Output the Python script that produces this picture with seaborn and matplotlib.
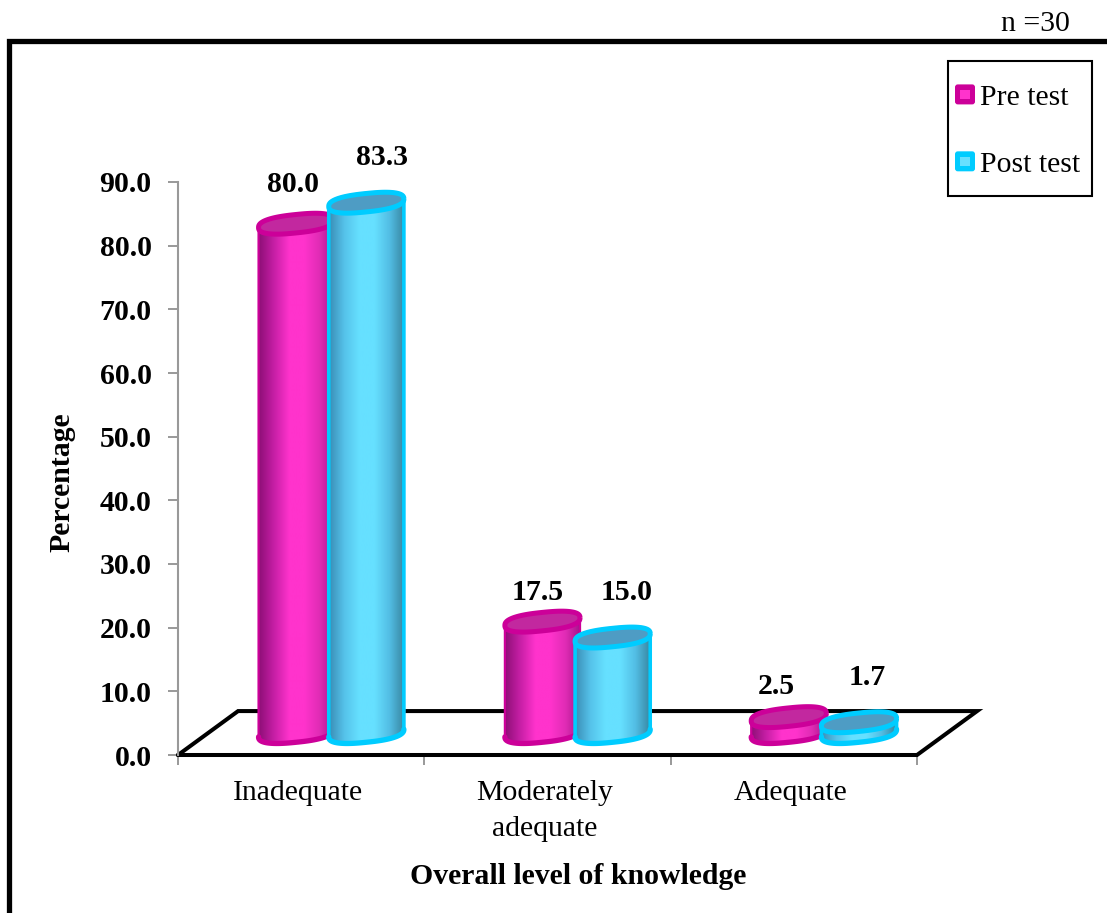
import numpy as np
import pandas as pd
import matplotlib
matplotlib.use("Agg")
import matplotlib.pyplot as plt
import seaborn as sns
from matplotlib.lines import Line2D
from matplotlib.patches import FancyBboxPatch, PathPatch, Rectangle
from matplotlib.path import Path
from matplotlib.legend_handler import HandlerBase
from matplotlib.transforms import ScaledTranslation

levels = ["Inadequate", "Moderately\nadequate", "Adequate"]
pre_test = [80.0, 17.5, 2.5]
post_test = [83.3, 15.0, 1.7]
series_names = ["Pre test", "Post test"]
y_ticks = [0, 10, 20, 30, 40, 50, 60, 70, 80, 90]

W, H = 1107, 913
SERIF = ["Liberation Serif", "DejaVu Serif"]
FS = 21.4

sns.set_theme(style="ticks", rc={"axes.edgecolor": "#999999", "axes.linewidth": 1.5,
                                 "xtick.color": "#999999", "ytick.color": "#999999"})
plt.rcParams["font.family"] = SERIF

fig = plt.figure(figsize=(W / 100, H / 100), dpi=100, facecolor="white")
ax = fig.add_axes([178 / W, (H - 755) / H, (917 - 178) / W, (755 - 182) / H])

df = pd.DataFrame({
    "level": levels * 2,
    "percentage": pre_test + post_test,
    "test": [series_names[0]] * 3 + [series_names[1]] * 3,
})
rim = {"Pre test": "#CC0099", "Post test": "#00CCFF"}
lid = {"Pre test": "#C2289F", "Post test": "#4E9CC4"}
shades = {
    "Pre test": ["#8F0F78", "#C71FA6", "#FF33CC", "#FF33CC", "#E02CB5", "#A3148A"],
    "Post test": ["#3A8DB5", "#55C2EA", "#66E0FF", "#66E0FF", "#52BDE4", "#37859F"],
}

sns.barplot(data=df, x="level", y="percentage", hue="test", order=levels,
            hue_order=series_names, palette=rim, width=0.57, gap=-0.07,
            errorbar=None, legend=False, ax=ax)

# Perspective of the chart floor, in data units
depth_x, depth_y = 0.122, 3.45
ell_b, ell_k = 1.45, 0.6


def ellipse(cx, cy, a, t):
    # Slightly squared-off ellipse, sheared so the right side sits higher
    c, s = np.cos(t), np.sin(t)
    c = np.sign(c) * np.abs(c) ** 0.8
    s = np.sign(s) * np.abs(s) ** 0.8
    return np.column_stack([cx + a * c, cy + ell_b * s + ell_k * c])


# Floor drawn as a black parallelogram outline behind the cylinders
floor = Line2D([-0.5, -0.5 + 2 * depth_x, 2.5 + 2 * depth_x, 2.5, -0.5],
               [0, 2 * depth_y, 2 * depth_y, 0, 0],
               color="black", lw=2.9, clip_on=False, zorder=2.5, solid_joinstyle="miter")
ax.add_line(floor)

label_nudges = [[(-3, 39), (-5, 29), (-12, 31)], [(16, 45), (14, 45), (8, 45)]]

for s, (name, bars) in enumerate(zip(series_names, ax.containers)):
    z = 3 + s
    for b, patch in enumerate(bars.patches):
        value = patch.get_height()
        x0, w = patch.get_x() + depth_x, patch.get_width()
        cx, a = x0 + w / 2, w / 2
        y0 = depth_y
        y1 = depth_y + value
        patch.set_x(x0)
        patch.set_y(y0)
        patch.set_zorder(z)

        # Cylinder wall: horizontal shading clipped to the wall outline
        low = ellipse(cx, y0, a, np.linspace(np.pi, 2 * np.pi, 60))
        high = ellipse(cx, y1, a, np.linspace(0, np.pi, 60))
        wall = Path(np.vstack([low, high, low[:1]]), closed=False)
        wall_patch = PathPatch(wall, fc="none", ec=rim[name], lw=2.6 if s else 1.6,
                               zorder=z + 0.2, joinstyle="round")
        ax.add_patch(wall_patch)
        cmap = matplotlib.colors.LinearSegmentedColormap.from_list(name, shades[name])
        img = ax.imshow(np.linspace(0, 1, 200)[None, :], cmap=cmap, aspect="auto",
                        extent=[x0, x0 + w, y0 - 3, y1 + 3], zorder=z + 0.1,
                        interpolation="bilinear")
        img.set_clip_path(PathPatch(wall, transform=ax.transData))

        # Heavier rim along the base
        ax.add_line(Line2D(low[:, 0], low[:, 1], color=rim[name], lw=3.8,
                           zorder=z + 0.3, solid_capstyle="round"))

        # Top lid
        ring = ellipse(cx, y1, a, np.linspace(0, 2 * np.pi, 120))
        ax.add_patch(PathPatch(Path(ring, closed=False), fc=lid[name], ec=rim[name],
                               lw=3.6, zorder=z + 0.4))

        dx, dy = label_nudges[s][b]
        ax.annotate(f"{value:.1f}", (cx, y1), xytext=(dx * 0.72, dy * 0.72),
                    textcoords="offset points", ha="center", va="center",
                    fontsize=FS, fontweight="bold", color="black",
                    annotation_clip=False, zorder=8)

ax.set_xlim(-0.5, 2.5)
ax.set_ylim(0, 90)
ax.set_yticks(y_ticks)
ax.set_yticklabels([f"{t:.1f}" for t in y_ticks], fontsize=FS, fontweight="bold", color="black")
ax.tick_params(axis="y", length=7, width=1.4, pad=12, color="#999999")

# Category ticks sit on the group boundaries, labels at the group centres
ax.set_xticks([0, 1, 2])
ax.set_xticklabels(levels, fontsize=FS, color="black", linespacing=1.5)
ax.tick_params(axis="x", which="major", length=0, pad=18)
ax.set_xticks([-0.5, 0.5, 1.5, 2.5], minor=True)
ax.tick_params(axis="x", which="minor", length=7, width=1.4, color="#999999")
shift = ScaledTranslation(-3 / 100, 0, fig.dpi_scale_trans)
for lab in ax.get_xticklabels():
    lab.set_transform(lab.get_transform() + shift)

sns.despine(ax=ax)
ax.spines["bottom"].set_visible(False)
ax.patch.set_alpha(0)

ax.set_xlabel("Overall level of knowledge", fontsize=FS, fontweight="bold", color="black", labelpad=15)
ax.xaxis.label.set_x((578 - 178) / 739)
ax.set_ylabel("Percentage", fontsize=FS, fontweight="bold", color="black", labelpad=17)
ax.yaxis.label.set_y((755 - 482) / 573)


# Legend key: rounded rim colour with a lighter inner square
class SquareKey(HandlerBase):
    def create_artists(self, legend, orig, xd, yd, width, height, fontsize, trans):
        side = 14.4
        x = -xd
        y = -yd + (height - side) / 2
        outer = FancyBboxPatch((x + 1, y + 1), side - 2, side - 2,
                               boxstyle="round,pad=1,rounding_size=2",
                               fc=orig.get_facecolor(), ec="none", transform=trans)
        inner = Rectangle((x + 3.8, y + 3.8), side - 7.6, side - 7.6,
                          fc=orig.get_edgecolor(), ec="none", transform=trans)
        return [outer, inner]


handles = [Rectangle((0, 0), 1, 1, fc="#CC0099", ec="#FF33CC"),
           Rectangle((0, 0), 1, 1, fc="#00CCFF", ec="#66E0FF")]
fig.legend(handles, series_names, handler_map={Rectangle: SquareKey()},
           loc="upper left", bbox_to_anchor=(955 / W, (H - 84) / H),
           frameon=False, fontsize=FS, borderpad=0, borderaxespad=0,
           handlelength=0.67, handletextpad=0.18, labelspacing=1.35,
           labelcolor="black")

# Legend box and outer chart frame
fig.add_artist(Rectangle((948 / W, (H - 196) / H), 144 / W, 135 / H, fc="none", ec="black",
                         lw=1.5, transform=fig.transFigure))
fig.add_artist(Line2D([8.5 / W, 8.5 / W, 1], [0, (H - 41) / H, (H - 41) / H],
                      color="black", lw=3.8, transform=fig.transFigure, solid_joinstyle="miter"))
fig.text(1070 / W, (H - 24) / H, "n =30", fontsize=FS, color="black", ha="right", va="center")

fig.savefig("out.png", dpi=100)
